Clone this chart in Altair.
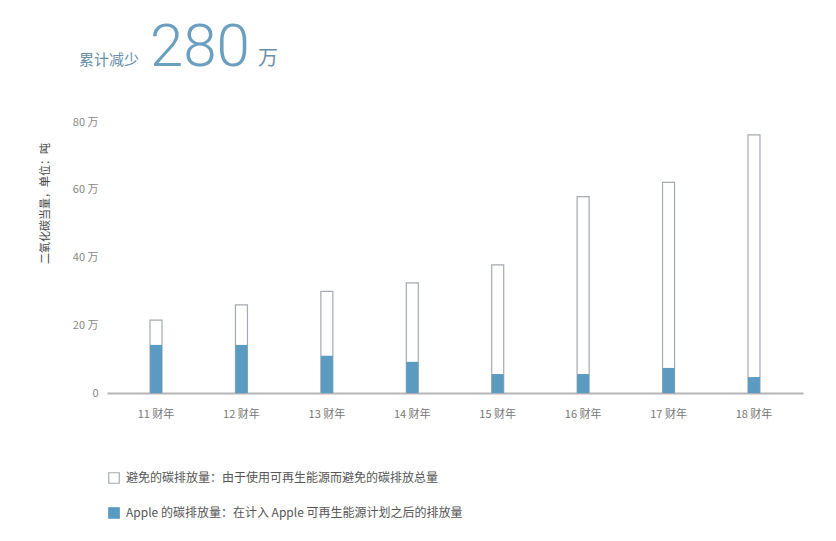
import altair as alt
import pandas as pd

years = ["11 财年", "12 财年", "13 财年", "14 财年", "15 财年", "16 财年", "17 财年", "18 财年"]
avoided = [21.5, 26.0, 30.0, 32.5, 37.8, 58.0, 62.2, 76.2]   # 万吨
apple = [14.2, 14.2, 11.0, 9.2, 5.6, 5.6, 7.4, 4.7]           # 万吨
series_names = ["避免的碳排放量：由于使用可再生能源而避免的碳排放总量",
                "Apple 的碳排放量：在计入 Apple 可再生能源计划之后的排放量"]
y_ticks = [0, 20, 40, 60, 80]

rows = []
for y, a, p in zip(years, avoided, apple):
    rows.append({"year": y, "series": series_names[0], "value": a})
    rows.append({"year": y, "series": series_names[1], "value": p})
df = pd.DataFrame(rows)

BLUE = "#5b9bc2"
GRAY = "#a4aab0"
FONT = "Noto Sans CJK SC"

fill_scale = alt.Scale(domain=series_names, range=["#ffffff", BLUE])
stroke_scale = alt.Scale(domain=series_names, range=[GRAY, BLUE])

x_enc = alt.X("year:N", sort=years, title=None,
              scale=alt.Scale(paddingInner=0, paddingOuter=0.074),
              axis=alt.Axis(labelAngle=0, ticks=False, labelPadding=15,
                            labelColor="#777777", labelFontSize=11, labelFont=FONT,
                            domainColor="#b5b5b5", domainWidth=2))
y_enc = alt.Y("value:Q", title="二氧化碳当量，单位：吨",
              scale=alt.Scale(domain=[0, 80], nice=False),
              axis=alt.Axis(values=y_ticks, grid=False, domain=False, ticks=False,
                            labelExpr="datum.value == 0 ? '0' : datum.value + ' 万'",
                            labelColor="#888888", labelFontSize=11, labelFont=FONT,
                            labelPadding=9,
                            titleColor="#444444", titleFontSize=11, titleFont=FONT,
                            titleFontWeight="normal", titleAngle=-90,
                            titleX=-57, titleY=81, titleAlign="center"))

legend = alt.Legend(title=None, orient="none", legendX=1, legendY=350,
                    symbolType="square", symbolSize=110, symbolStrokeWidth=1.2,
                    labelFontSize=12, labelColor="#555555", labelFont=FONT,
                    rowPadding=19, labelOffset=6, labelLimit=600)

base = alt.Chart(df)
outline = base.transform_filter(alt.datum.series == series_names[0]).mark_bar(
    width=12, strokeWidth=1.2).encode(
    x=x_enc, y=y_enc,
    fill=alt.Fill("series:N", scale=fill_scale, legend=legend, sort=series_names),
    stroke=alt.Stroke("series:N", scale=stroke_scale, legend=legend, sort=series_names))
filled = base.transform_filter(alt.datum.series == series_names[1]).mark_bar(
    width=12, strokeWidth=0).encode(
    x=x_enc, y=y_enc,
    fill=alt.Fill("series:N", scale=fill_scale, legend=legend, sort=series_names),
    stroke=alt.Stroke("series:N", scale=stroke_scale, legend=legend, sort=series_names))

head = pd.DataFrame({"t": ["累计减少"]})
t1 = alt.Chart(head).mark_text(align="left", baseline="alphabetic", fontSize=15,
                               font=FONT, color="#6a8fa8").encode(
    text="t:N", x=alt.value(-28), y=alt.value(-57))
t2 = alt.Chart(pd.DataFrame({"t": ["280"]})).mark_text(
    align="left", baseline="alphabetic", fontSize=60, font="Helvetica Neue, Roboto, Liberation Sans",
    fontWeight=300, color="#6b9fc0").encode(
    text="t:N", x=alt.value(43), y=alt.value(-56))
t3 = alt.Chart(pd.DataFrame({"t": ["万"]})).mark_text(
    align="left", baseline="alphabetic", fontSize=20, font=FONT,
    color="#6a8fa8").encode(text="t:N", x=alt.value(151), y=alt.value(-57))

chart = alt.layer(outline, filled, t1, t2, t3).properties(
    width=696, height=271,
    autosize=alt.AutoSizeParams(type="none"),
    padding={"left": 99, "top": 114, "right": 25, "bottom": 140},
    background="#ffffff",
).configure_view(stroke=None)

chart.save("out.html", embed_options={"renderer": "svg", "actions": False})
